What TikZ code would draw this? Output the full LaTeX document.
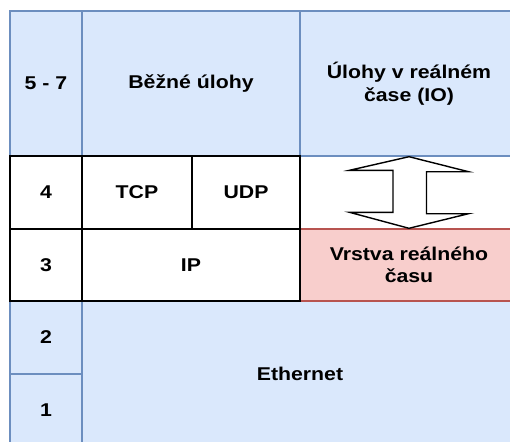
\documentclass[tikz,border=0pt]{standalone}
\usepackage{fontspec}
\setmainfont{Liberation Sans}[FakeStretch=1.15]
\definecolor{bluefill}{HTML}{DAE8FC}
\definecolor{bluestroke}{HTML}{6C8EBF}
\definecolor{redfill}{HTML}{F8CECC}
\definecolor{redstroke}{HTML}{B85450}
\tikzset{
  cell/.style={rectangle, inner sep=0pt, align=center, line width=1.4pt,
    font=\bfseries\fontsize{18.5}{22.5}\selectfont, text=black},
  bluecell/.style={cell, fill=bluefill, draw=bluestroke},
  redcell/.style={cell, fill=redfill, draw=redstroke},
  plaincell/.style={cell, fill=white, draw=black},
  arrowshape/.style={draw=black, fill=white, line width=1.4pt, line join=miter},
}
\begin{document}
\begin{tikzpicture}[x=1pt, y=-1pt]
\useasboundingbox (0,0) rectangle (510,441);
\clip (0,0) rectangle (510,441);
\fill[white] (0,0) rectangle (510,441);

% layers 5-7: applications
\node[bluecell, minimum width=72pt, minimum height=145pt] (l57) at (46,83.5) {5 - 7};
\node[bluecell, minimum width=218pt, minimum height=145pt] (common) at (191,83.5) {Běžné úlohy};
\node[bluecell, minimum width=218pt, minimum height=145pt] (rtapp) at (409,83.5) {Úlohy v reálném\\čase (IO)};

% layers 1-2: Ethernet
\node[bluecell, minimum width=72pt, minimum height=73pt] (l2) at (46,337.5) {2};
\node[bluecell, minimum width=72pt, minimum height=72pt] (l1) at (46,410) {1};
\node[bluecell, minimum width=436pt, minimum height=145pt] (eth) at (300,373.5) {Ethernet};

% real-time layer
\node[redcell, minimum width=218pt, minimum height=72pt] (rtlayer) at (409,265) {Vrstva reálného\\času};

% layers 3-4: transport and network
\node[plaincell, minimum width=72pt, minimum height=73pt] (l4) at (46,192.5) {4};
\node[plaincell, minimum width=110pt, minimum height=73pt] (tcp) at (137,192.5) {TCP};
\node[plaincell, minimum width=108pt, minimum height=73pt] (udp) at (246,192.5) {UDP};
\node[plaincell, minimum width=72pt, minimum height=72pt] (l3) at (46,265) {3};
\node[plaincell, minimum width=218pt, minimum height=72pt] (ip) at (191,265) {IP};

% double arrow between real-time tasks and the real-time layer
\coordinate (tiptop) at (rtapp.south);
\coordinate (tipbot) at (rtlayer.north);
\draw[arrowshape] (tiptop)
  -- ++(59.5,15) -- ++(-42,0) -- ++(0,42) -- ++(42,0)
  -- (tipbot)
  -- ++(-59.5,-16) -- ++(43.5,0) -- ++(0,-42) -- ++(-43.5,0) -- cycle;
\end{tikzpicture}
\end{document}
